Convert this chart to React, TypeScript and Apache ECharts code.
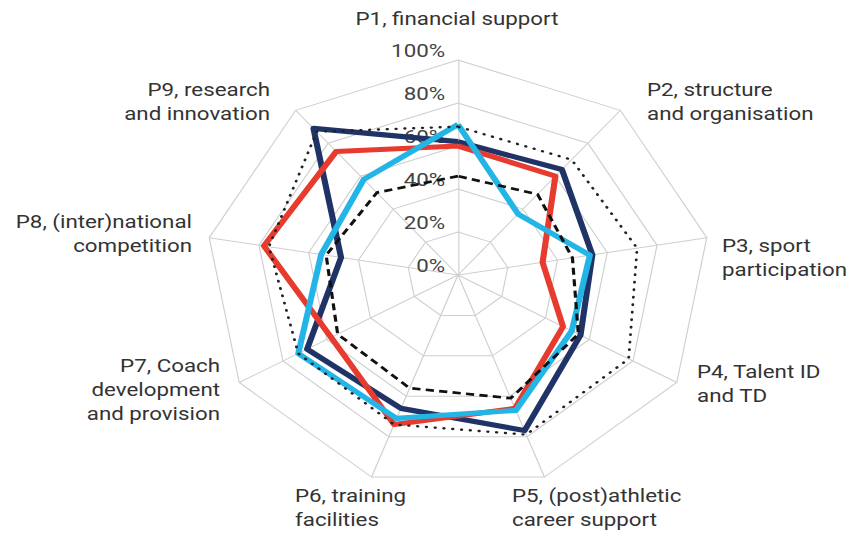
import React, { useEffect, useRef } from "react";
import * as echarts from "echarts";

const categories = [
  "P1, financial support",
  "P2, structure\nand organisation",
  "P3, sport\nparticipation",
  "P4, Talent ID\nand TD",
  "P5, (post)athletic\ncareer support",
  "P6, training\nfacilities",
  "P7, Coach\ndevelopment\nand provision",
  "P8, (inter)national\ncompetition",
  "P9, research\nand innovation",
];

const tickValues = [0, 20, 40, 60, 80, 100];

const navySeries = [62, 64, 54, 56, 77, 66, 69, 47, 89];
const redSeries = [60, 60, 34, 48, 66, 74, 58, 78, 75];
const blueSeries = [70, 37, 53, 52, 67, 71, 73, 55, 58];
const dashedSeries = [46, 49, 46, 55, 61, 56, 55, 53, 50];
const dottedSeries = [69, 70, 72, 78, 79, 74, 73, 76, 87];

// The reference is stretched horizontally; draw narrower and stretch with CSS.
const STRETCH = 1.175;
const PAGE_W = 854;
const PAGE_H = 536;

// label placement in page pixels (layout only)
const namePlacement: { x: number; y: number; align: string }[] = [
  { x: 457, y: 19, align: "center" },
  { x: 647, y: 102, align: "left" },
  { x: 722, y: 258, align: "left" },
  { x: 697, y: 384, align: "left" },
  { x: 512, y: 508, align: "left" },
  { x: 295, y: 508, align: "left" },
  { x: 220, y: 390, align: "right" },
  { x: 192, y: 234, align: "right" },
  { x: 270, y: 102, align: "right" },
];

// ECharts radar goes counter-clockwise; reorder so P2 sits to the right of P1
const order = [0, 8, 7, 6, 5, 4, 3, 2, 1];
const reorder = (arr: number[]) => order.map((i) => arr[i]);

export default function App() {
  const ref = useRef<HTMLDivElement>(null);
  useEffect(() => {
    document.body.style.margin = "0";
    if (!ref.current) return;
    const chart = echarts.init(ref.current, undefined, { renderer: "svg" });
    const font = "Roboto";
    const cx = 458 / STRETCH;
    const lineSeries = (
      name: string,
      values: number[],
      lineStyle: any,
      z: number
    ) => ({
      type: "radar",
      name,
      z,
      symbol: "none",
      silent: true,
      data: [{ value: reorder(values), name }],
      lineStyle,
      areaStyle: { opacity: 0 },
    });
    chart.setOption({
      animation: false,
      backgroundColor: "#ffffff",
      radar: {
        center: [cx, 275],
        radius: 215,
        shape: "polygon",
        splitNumber: 5,
        startAngle: 90,
        indicator: order.map((i) => ({
          name: categories[i],
          min: tickValues[0],
          max: tickValues[tickValues.length - 1],
        })),
        axisName: { show: false },
        splitArea: { show: false },
        splitLine: { lineStyle: { color: "#cfcfcf", width: 1 } },
        axisLine: { lineStyle: { color: "#cfcfcf", width: 1 } },
        axisLabel: { show: false },
      },
      grid: { left: cx, top: 60, width: 10, height: 215 },
      xAxis: { type: "value", show: false, min: 0, max: 1 },
      yAxis: {
        type: "value",
        min: tickValues[0],
        max: tickValues[tickValues.length - 1],
        interval: 20,
        axisLine: { show: false },
        axisTick: { show: false },
        splitLine: { show: false },
        axisLabel: {
          formatter: "{value}%",
          margin: 11,
          verticalAlign: "bottom",
          fontSize: 19,
          fontFamily: font,
          color: "#444444",
        },
      },
      graphic: categories.map((c, i) => ({
        type: "text",
        x: namePlacement[i].x / STRETCH,
        y: namePlacement[i].y,
        silent: true,
        style: {
          text: c,
          fill: "#333333",
          font: `19px ${font}`,
          textAlign: namePlacement[i].align,
          textVerticalAlign: "middle",
          lineHeight: 24,
        },
      })),
      series: [
        lineSeries("navy", navySeries, { color: "#1f3366", width: 5.2 }, 2),
        lineSeries("red", redSeries, { color: "#e63b2e", width: 5.2 }, 3),
        lineSeries("blue", blueSeries, { color: "#22b5e6", width: 5.2 }, 4),
        lineSeries(
          "dashed",
          dashedSeries,
          { color: "#111111", width: 2.7, type: [7, 4.5] },
          5
        ),
        lineSeries(
          "dotted",
          dottedSeries,
          { color: "#222222", width: 2.4, type: [0.5, 7], cap: "round" },
          6
        ),
      ],
    });
    return () => chart.dispose();
  }, []);
  return (
    <div
      ref={ref}
      style={{
        position: "fixed",
        left: 0,
        top: 0,
        width: PAGE_W / STRETCH,
        height: PAGE_H,
        transform: `scaleX(${STRETCH})`,
        transformOrigin: "0 0",
      }}
    />
  );
}
